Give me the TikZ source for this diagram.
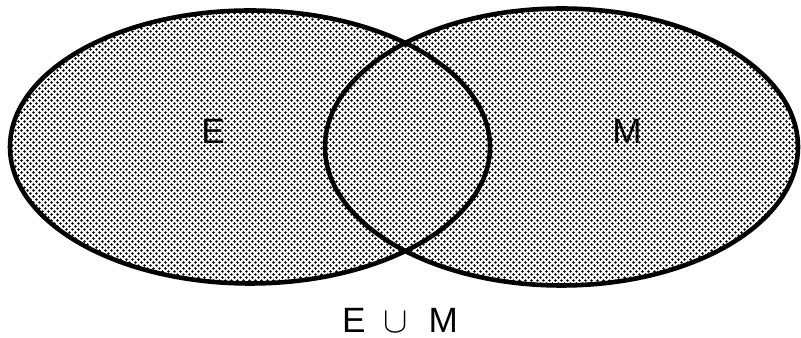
\documentclass[tikz,border=0pt]{standalone}
\usepackage{fontspec}
\setmainfont{Liberation Sans}
\usetikzlibrary{shapes.geometric,patterns.meta,backgrounds}
\tikzdeclarepattern{name=stipple, type=uncolored,
  bottom left={(0pt,0pt)}, top right={(3.4pt,3.4pt)}, tile size={(3.4pt,3.4pt)},
  code={\fill (0.85pt,0.85pt) circle (0.8pt); \fill (2.55pt,2.55pt) circle (0.8pt);}}
\tikzset{
  setshape/.style={ellipse, draw, line width=2.6pt, inner sep=0pt},
  setlabel/.style={font=\fontsize{20}{24}\selectfont}
}

\begin{document}
\begin{tikzpicture}
\useasboundingbox (0,0) rectangle (16.02,6.76);

% the two sets
\node[setshape, minimum width=9.6cm, minimum height=5.46cm] (E) at (5.0,3.82) {};
\node[setshape, minimum width=9.46cm, minimum height=5.54cm] (M) at (11.23,3.82) {};

% stippled union, filled once
\begin{scope}[on background layer]
  \path[pattern={stipple}, pattern color=black]
    (E.center) ellipse [x radius=4.8cm, y radius=2.73cm]
    (M.center) ellipse [x radius=4.73cm, y radius=2.77cm];
\end{scope}

\node[setlabel] (labE) at (4.26,4.14) {E};
\node[setlabel] (labM) at (12.54,4.14) {M};

% caption
\node[setlabel, anchor=base] (union) at (8.0,0.1) {E\hspace{0.5em}$\cup$\hspace{0.6em}M};
\end{tikzpicture}
\end{document}
